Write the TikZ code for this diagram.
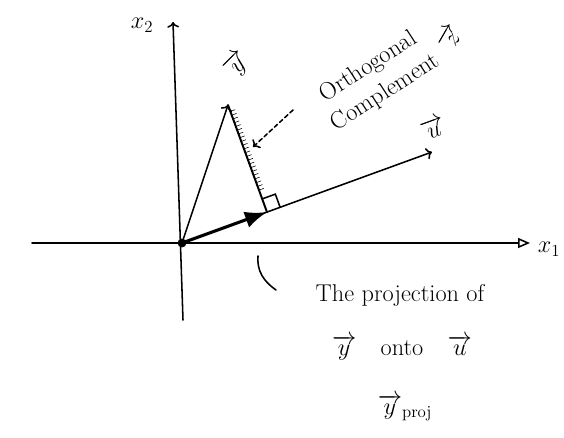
\documentclass[tikz,border=0pt]{standalone}
\usepackage{amsmath}
\usepackage{amssymb}
\usetikzlibrary{arrows.meta, calc, positioning}

\begin{document}
\begin{tikzpicture}[x=0.025cm, y=0.025cm, line cap=round,
		lbl/.style={font=\LARGE},
		vecarrow/.style={line width=1.1pt, ->}]
			\useasboundingbox (-182, -194) rectangle (382, 243);
			
			% Points
			\coordinate (O) at (0, 0);
			\coordinate (Y) at (46, 138);
			\coordinate (U) at (20:266);
			\coordinate (P) at ($(O)!(Y)!(U)$);
			
			% Axis
			\draw[line width=1.1pt, -{Triangle[open, length=0.3cm, width=0.25cm]}] (-150, 0) -- (348, 0);
			\draw[line width=1.1pt, ->] (1, -77) -- (-9, 221);
			\node[lbl, anchor=west] (xone) at (351, -6) {$x_1$};
			\node[lbl] (xtwo) at (-40, 218) {$x_2$};
			
			% Vectors
			\draw[vecarrow] (O) -- (U);
			\draw[vecarrow] (O) -- (Y);
			\draw[line width=1.4pt] (Y) -- (P);
			\foreach \t in {0.06,0.095,...,0.8}
				\draw ($(Y)!\t!(P)$) -- ++(20:5);
			\draw[line width=2.2pt, -{Latex[length=0.55cm, width=0.42cm]}] (O) -- (P);
			\fill (O) circle (0.11cm);
			
			% Right angle
			\draw[line width=1.1pt] ($(P)+(20:14)$) -- ++(110:14) -- ++(200:14);
			
			% Labels
			\node[lbl, rotate=45] (ylab) at (55, 178) {$\overrightarrow{y}$};
			\node[lbl, rotate=20] (ulab) at (251, 115) {$\overrightarrow{u}$};
			\node[lbl, rotate=60] (zlab) at (268, 206) {$\overrightarrow{z}$};
			\node[lbl, rotate=33, align=center] (oc) at (195, 163) {Orthogonal\\Complement};
			\coordinate (ocstart) at (111, 133);
			\coordinate (ocend) at (71, 96);
			\draw[line width=1.1pt, densely dashed, ->] (ocstart) -- (ocend);
			
			% Projection text
			\node[lbl] (proja) at (218, -52) {The projection of};
			\node[lbl] (projb) at (220, -105) {$\overrightarrow{y}$\quad onto\quad $\overrightarrow{u}$};
			\node[lbl] (projc) at (223, -165) {$\overrightarrow{y}_{\text{proj}}$};
			\coordinate (pstart) at (76, -13);
			\coordinate (pend) at (94, -47);
			\draw[line width=1.1pt] (pstart) to[out=-95, in=145] (pend);
		\end{tikzpicture}
\end{document}
